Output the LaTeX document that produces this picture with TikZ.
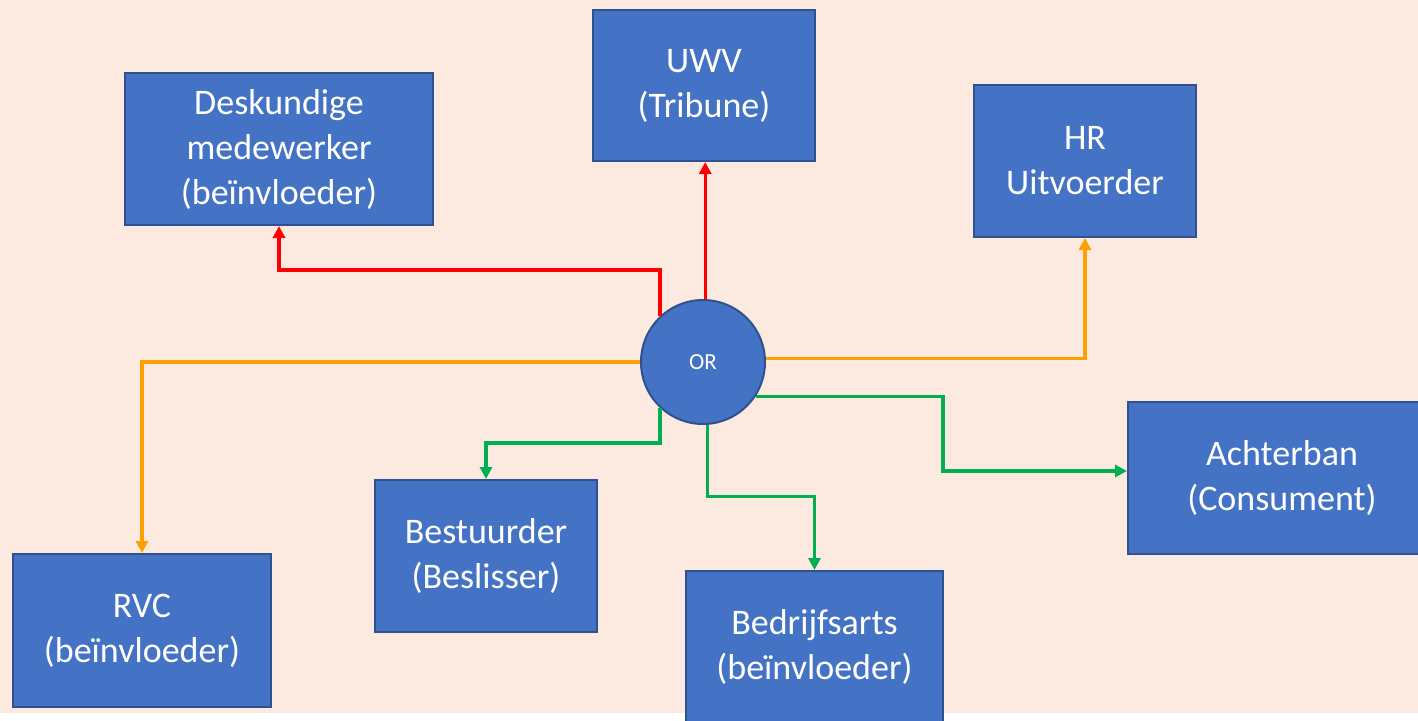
\documentclass[tikz,border=0pt]{standalone}
\usepackage{fontspec}
\setmainfont{Carlito}
\usetikzlibrary{arrows.meta,calc}
\definecolor{bg}{HTML}{FCE9DF}
\definecolor{boxfill}{HTML}{4472C4}
\definecolor{boxline}{HTML}{2F528F}
\definecolor{lred}{HTML}{FF0000}
\definecolor{lorange}{HTML}{FFA000}
\definecolor{lgreen}{HTML}{00B050}
\tikzset{
  box/.style={draw=boxline, fill=boxfill, line width=2pt, text=white, align=center,
    inner sep=0pt, font=\fontsize{36}{45}\selectfont},
  hub/.style={circle, draw=boxline, fill=boxfill, line width=2pt, text=white,
    minimum size=124pt, inner sep=0pt, font=\fontsize{23}{27}\selectfont},
  conn/.style={line width=3.2pt, -{Triangle[length=12pt,width=12pt]}},
}
\begin{document}
\begin{tikzpicture}[x=1pt,y=-1pt]
\useasboundingbox (0,0) rectangle (1418,720);
\fill[white] (0,0) rectangle (1418,720);
\fill[bg] (0,0) rectangle (1418,713);
\begin{scope}
\clip (0,0) rectangle (1418,720);
\node[box, minimum width=308pt, minimum height=152pt] (desk) at (279,149) {Deskundige\\medewerker\\(beïnvloeder)};
\node[box, minimum width=222pt, minimum height=151pt] (uwv) at (704,85.5) {UWV\\(Tribune)};
\node[box, minimum width=222pt, minimum height=152pt] (hr) at (1085,161) {HR\\Uitvoerder};
\node[box, minimum width=308pt, minimum height=152pt] (ach) at (1282,478) {Achterban\\(Consument)};
\node[box, minimum width=222pt, minimum height=152pt] (best) at (486,556) {Bestuurder\\(Beslisser)};
\node[box, minimum width=258pt, minimum height=153pt] (rvc) at (142,630.5) {RVC\\(beïnvloeder)};
\node[box, minimum width=257pt, minimum height=152pt] (bed) at (814.5,647) {Bedrijfsarts\\(beïnvloeder)};
\end{scope}
\node[hub] (or) at (703,362) {OR};
% red
\draw[conn, lred] (or.88) -- (or.88 |- uwv.south);
\draw[conn, lred] (or.133) -- ++(0,-46) -| (desk.south);
% orange
\draw[conn, lorange] (or.west) -| (rvc.north);
\draw[conn, lorange] (or.3) -| (hr.south);
% green
\draw[conn, lgreen] (or.227) -- ++(0,35) -| (best.north);
\draw[conn, lgreen] (or.-86) -- ++(0,72) -| (bed.north);
\coordinate (achin) at ($(ach.west)+(0,-7)$);
\draw[conn, lgreen] (or.-33) -| ($(achin)+(-184,0)$) -- (achin);
\end{tikzpicture}
\end{document}
